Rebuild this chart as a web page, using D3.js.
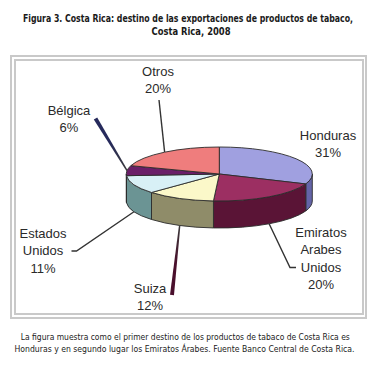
<!DOCTYPE html>
<html>
<head>
<meta charset="utf-8">
<script src="https://cdn.jsdelivr.net/npm/d3@7"></script>
<style>
  html, body { margin: 0; padding: 0; background: #fff; }
  svg { display: block; }
</style>
</head>
<body>
<svg class="main" width="379" height="370"></svg>
<script>
(function () {
  'use strict';

  // data
  const categories = ["Honduras", "Emiratos Arabes Unidos", "Suiza", "Estados Unidos", "Bélgica", "Otros"];
  const shares = [31, 20, 12, 11, 6, 20];
  const labelLines = [["Honduras"], ["Emiratos", "Arabes", "Unidos"], ["Suiza"], ["Estados", "Unidos"], ["Bélgica"], ["Otros"]];
  const topColors = ["#a0a0e0", "#9c2f62", "#fbf8c9", "#d8f0f6", "#6a1e68", "#ef7d7d"];
  const sideColors = ["#6464a8", "#5a1436", "#8f8c69", "#6b9494", "#40103f", "#a04a4a"];

  const titleLines = [
    "Figura 3. Costa Rica: destino de las exportaciones de productos de tabaco,",
    "Costa Rica, 2008"
  ];
  const captionLines = [
    "La figura muestra como el primer destino de los productos de tabaco de Costa Rica es",
    "Honduras y en segundo lugar los Emiratos Árabes. Fuente Banco Central de Costa Rica."
  ];

  // layout
  const cx = 219.3, cy = 174, rx = 93, ry = 27, depth = 27;
  const labelAt = [[328, 139.5], [321, 237], [150, 293], [43, 238], [69, 114.5], [158, 76]];
  const lineH = 17.4;
  // where the leader lines end, near each label (null = no leader)
  const leaderEnds = [
    null,
    [[290, 267.5], [296, 267.5]],
    [[172, 295]],
    [[76.5, 251], [71.5, 251]],
    [[95.5, 118.5]],
    [[159, 100]]
  ];
  const taperColor = [null, null, "#4a0f2c", null, "#262a5c", null];

  const svg = d3.select("svg.main");

  const pt = (a, dy = 0) => [cx + rx * Math.sin(a), cy - ry * Math.cos(a) + dy];
  const fmt = p => `${p[0].toFixed(2)},${p[1].toFixed(2)}`;

  // frame (double grey border)
  svg.append("rect")
    .attr("x", 11).attr("y", 56).attr("width", 355).attr("height", 262)
    .attr("fill", "none").attr("stroke", "#c9c9c9").attr("stroke-width", 2);
  svg.append("rect")
    .attr("x", 15).attr("y", 60).attr("width", 348).attr("height", 254)
    .attr("fill", "none").attr("stroke", "#c9c9c9").attr("stroke-width", 2);

  const narrow = "'Liberation Sans Narrow', 'DejaVu Sans Condensed', sans-serif";

  function block(lines, pos, size, weight) {
    lines.forEach((t, i) => {
      svg.append("text")
        .attr("x", pos[i][0]).attr("y", pos[i][1])
        .attr("text-anchor", "middle")
        .attr("textLength", pos[i][2]).attr("lengthAdjust", "spacingAndGlyphs")
        .attr("font-family", narrow)
        .attr("font-weight", weight).attr("font-size", size)
        .attr("fill", "#1a1a1a")
        .text(t);
    });
  }

  // title and caption: [centre x, baseline y, width]
  block(titleLines, [[188, 21.5, 330], [191, 35, 79]], 9.8, "bold");
  block(captionLines, [[185.3, 340, 329], [184.5, 351.5, 340]], 9.3, "normal");

  const pie = d3.pie().sort(null).value(d => d);
  const arcs = pie(shares);

  // leader lines (under the pie)
  const leaders = svg.append("g");
  arcs.forEach((d, i) => {
    if (!leaderEnds[i]) return;
    const mid = (d.startAngle + d.endAngle) / 2;
    const front = Math.cos(mid) < 0;
    const start = pt(mid, front ? depth : 0);
    const pts = [start, ...leaderEnds[i]];
    if (taperColor[i]) {
      // thin wedge: narrow at the pie, wide at the label
      const end = leaderEnds[i][0];
      const dx = end[0] - start[0], dy = end[1] - start[1];
      const len = Math.hypot(dx, dy);
      const ux = -dy / len, uy = dx / len;
      const w0 = 0.7, w1 = 2;
      const grad = svg.append("defs").append("linearGradient")
        .attr("id", `taper-${i}`)
        .attr("gradientUnits", "userSpaceOnUse")
        .attr("x1", start[0]).attr("y1", start[1])
        .attr("x2", end[0]).attr("y2", end[1]);
      grad.append("stop").attr("offset", 0).attr("stop-color", "#3a3a3a");
      grad.append("stop").attr("offset", 0.55).attr("stop-color", taperColor[i]);
      grad.append("stop").attr("offset", 1).attr("stop-color", taperColor[i]);
      const quad = [
        [start[0] + ux * w0, start[1] + uy * w0],
        [end[0] + ux * w1, end[1] + uy * w1],
        [end[0] - ux * w1, end[1] - uy * w1],
        [start[0] - ux * w0, start[1] - uy * w0]
      ];
      leaders.append("path")
        .attr("d", `M${quad.map(fmt).join("L")}Z`)
        .attr("fill", `url(#taper-${i})`);
    } else {
      leaders.append("path")
        .attr("d", d3.line()(pts))
        .attr("fill", "none")
        .attr("stroke", "#333")
        .attr("stroke-width", 1.4);
    }
  });

  const stroke = "#2b2b2b";

  // side walls (only the front half is visible)
  const sides = svg.append("g");
  arcs.forEach((d, i) => {
    const a0 = Math.max(d.startAngle, Math.PI / 2);
    const a1 = Math.min(d.endAngle, Math.PI * 1.5);
    if (a1 <= a0) return;
    const large = a1 - a0 > Math.PI ? 1 : 0;
    const path = `M${fmt(pt(a0))}A${rx},${ry} 0 ${large} 1 ${fmt(pt(a1))}` +
      `L${fmt(pt(a1, depth))}A${rx},${ry} 0 ${large} 0 ${fmt(pt(a0, depth))}Z`;
    sides.append("path")
      .attr("d", path)
      .attr("fill", sideColors[i])
      .attr("stroke", stroke)
      .attr("stroke-width", 0.9)
      .attr("stroke-linejoin", "round");
  });

  // top faces
  const tops = svg.append("g");
  arcs.forEach((d, i) => {
    const large = d.endAngle - d.startAngle > Math.PI ? 1 : 0;
    const path = `M${cx},${cy}L${fmt(pt(d.startAngle))}` +
      `A${rx},${ry} 0 ${large} 1 ${fmt(pt(d.endAngle))}Z`;
    tops.append("path")
      .attr("d", path)
      .attr("fill", topColors[i])
      .attr("stroke", stroke)
      .attr("stroke-width", 0.9)
      .attr("stroke-linejoin", "round");
  });

  // labels
  const labels = svg.append("g")
    .attr("font-family", "'Liberation Sans', Arial, sans-serif")
    .attr("font-size", 13)
    .attr("fill", "#2a2a2a")
    .attr("text-anchor", "middle");
  categories.forEach((c, i) => {
    const lines = [...labelLines[i], `${shares[i]}%`];
    const t = labels.append("text")
      .attr("x", labelAt[i][0]).attr("y", labelAt[i][1]);
    lines.forEach((s, j) => {
      t.append("tspan")
        .attr("x", labelAt[i][0])
        .attr("dy", j === 0 ? 0 : lineH)
        .text(s);
    });
  });
}());
</script>
</body>
</html>
